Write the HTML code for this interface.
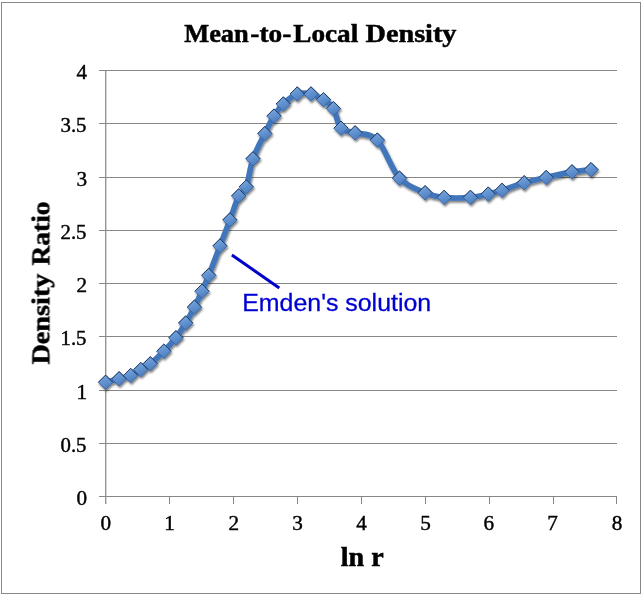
<!DOCTYPE html>
<html><head><meta charset="utf-8"><title>Mean-to-Local Density</title>
<style>
html,body{margin:0;padding:0;background:#fff;}
body{width:643px;height:597px;overflow:hidden;font-family:"Liberation Serif",serif;}
svg{display:block;}
.ax line{stroke:#878787;stroke-width:1;shape-rendering:crispEdges;}
.num text{font-family:"Liberation Serif",serif;font-size:20px;fill:#000;stroke:#000;stroke-width:0.42px;}
.ttl{font-family:"Liberation Serif",serif;font-weight:bold;fill:#000;stroke:#000;stroke-width:0.5px;}
.ann{font-family:"Liberation Sans",sans-serif;font-size:24.8px;fill:#0000d2;stroke:#0000d2;stroke-width:0.3px;}
</style></head><body>
<svg width="643" height="597" viewBox="0 0 643 597">
<defs>
<linearGradient id="mg" x1="0.2" y1="0" x2="0.6" y2="1">
<stop offset="0" stop-color="#7ba8df"/><stop offset="1" stop-color="#497cbf"/>
</linearGradient>
<filter id="sh" x="-5%" y="-5%" width="110%" height="115%">
<feGaussianBlur in="SourceAlpha" stdDeviation="1.1"/>
<feOffset dx="0.5" dy="1.8" result="b"/>
<feComponentTransfer><feFuncA type="linear" slope="0.5"/></feComponentTransfer>
<feMerge><feMergeNode/><feMergeNode in="SourceGraphic"/></feMerge>
</filter>
</defs>
<rect x="0" y="0" width="643" height="597" fill="#fff"/>
<rect x="1.5" y="2.5" width="639" height="591" fill="#fff" stroke="#888" stroke-width="1" shape-rendering="crispEdges"/>
<g class="ax">
<line x1="99" y1="70.5" x2="617.0" y2="70.5"/>
<line x1="99" y1="123.5" x2="617.0" y2="123.5"/>
<line x1="99" y1="177.5" x2="617.0" y2="177.5"/>
<line x1="99" y1="230.5" x2="617.0" y2="230.5"/>
<line x1="99" y1="283.5" x2="617.0" y2="283.5"/>
<line x1="99" y1="336.5" x2="617.0" y2="336.5"/>
<line x1="99" y1="390.5" x2="617.0" y2="390.5"/>
<line x1="99" y1="443.5" x2="617.0" y2="443.5"/>
<line x1="99" y1="496.5" x2="617.0" y2="496.5"/>
<line x1="169.5" y1="496.5" x2="169.5" y2="504"/>
<line x1="233.5" y1="496.5" x2="233.5" y2="504"/>
<line x1="297.5" y1="496.5" x2="297.5" y2="504"/>
<line x1="361.5" y1="496.5" x2="361.5" y2="504"/>
<line x1="425.5" y1="496.5" x2="425.5" y2="504"/>
<line x1="489.5" y1="496.5" x2="489.5" y2="504"/>
<line x1="553.5" y1="496.5" x2="553.5" y2="504"/>
<line x1="616.5" y1="496.5" x2="616.5" y2="504"/>
</g>
<line x1="105.75" y1="70" x2="105.75" y2="504" stroke="#878787" stroke-width="1.25"/>
<g opacity="0.999"><g class="num">
<text x="87.0" y="78.5" text-anchor="end" textLength="10.6" lengthAdjust="spacingAndGlyphs">4</text>
<text x="86.5" y="131.5" text-anchor="end" textLength="26.0" lengthAdjust="spacingAndGlyphs">3.5</text>
<text x="87.0" y="185.5" text-anchor="end" textLength="10.6" lengthAdjust="spacingAndGlyphs">3</text>
<text x="86.5" y="238.5" text-anchor="end" textLength="26.0" lengthAdjust="spacingAndGlyphs">2.5</text>
<text x="87.0" y="291.5" text-anchor="end" textLength="10.6" lengthAdjust="spacingAndGlyphs">2</text>
<text x="86.5" y="344.5" text-anchor="end" textLength="26.0" lengthAdjust="spacingAndGlyphs">1.5</text>
<text x="87.0" y="398.5" text-anchor="end" textLength="10.6" lengthAdjust="spacingAndGlyphs">1</text>
<text x="86.5" y="451.5" text-anchor="end" textLength="26.0" lengthAdjust="spacingAndGlyphs">0.5</text>
<text x="87.0" y="504.5" text-anchor="end" textLength="10.6" lengthAdjust="spacingAndGlyphs">0</text>
<text x="105.8" y="530" text-anchor="middle" textLength="10.6" lengthAdjust="spacingAndGlyphs">0</text>
<text x="169.5" y="530" text-anchor="middle" textLength="10.6" lengthAdjust="spacingAndGlyphs">1</text>
<text x="233.8" y="530" text-anchor="middle" textLength="10.6" lengthAdjust="spacingAndGlyphs">2</text>
<text x="297.5" y="530" text-anchor="middle" textLength="10.6" lengthAdjust="spacingAndGlyphs">3</text>
<text x="361.5" y="530" text-anchor="middle" textLength="10.6" lengthAdjust="spacingAndGlyphs">4</text>
<text x="425.5" y="530" text-anchor="middle" textLength="10.6" lengthAdjust="spacingAndGlyphs">5</text>
<text x="488.7" y="530" text-anchor="middle" textLength="10.6" lengthAdjust="spacingAndGlyphs">6</text>
<text x="552.5" y="530" text-anchor="middle" textLength="10.6" lengthAdjust="spacingAndGlyphs">7</text>
<text x="617.0" y="530" text-anchor="middle" textLength="10.6" lengthAdjust="spacingAndGlyphs">8</text>
</g>
<g class="ttl" font-size="25.5">
<text x="184.2" y="42.4" textLength="64.6" lengthAdjust="spacingAndGlyphs">Mean</text>
<text x="250.3" y="42.4" textLength="41" lengthAdjust="spacingAndGlyphs">-to-</text>
<text x="293.3" y="42.4" textLength="65" lengthAdjust="spacingAndGlyphs">Local</text>
<text x="365.5" y="42.4" textLength="91" lengthAdjust="spacingAndGlyphs">Density</text>
</g>
<text class="ttl" x="362.2" y="565.6" font-size="26.5" text-anchor="middle" textLength="43" lengthAdjust="spacingAndGlyphs">ln r</text>
<g class="ttl" font-size="25.5" transform="translate(49.4,0) rotate(-90)">
<text x="-364.6" y="0" textLength="91" lengthAdjust="spacingAndGlyphs">Density</text>
<text x="-265.5" y="0" textLength="64" lengthAdjust="spacingAndGlyphs">Ratio</text>
</g>
</g>
<g filter="url(#sh)">
<path d="M105.6,382.3 C107.8,381.7 114.9,379.9 119.1,378.8 C123.3,377.7 127.1,377.0 130.7,375.5 C134.3,374.0 137.5,371.6 140.8,369.6 C144.1,367.7 146.5,366.9 150.3,363.8 C154.2,360.7 159.6,355.5 163.9,351.2 C168.2,346.9 172.3,342.5 175.9,337.8 C179.5,333.1 182.6,328.1 185.7,323.0 C188.8,317.9 191.7,312.5 194.4,307.2 C197.1,301.9 199.6,296.5 202.0,291.2 C204.4,285.9 205.7,282.9 208.7,275.4 C211.7,267.9 216.5,255.2 220.0,246.0 C223.5,236.8 226.8,228.3 229.9,220.0 C233.0,211.7 236.0,201.4 238.7,195.9 C241.4,190.4 243.9,193.1 246.3,186.9 C248.7,180.7 249.9,167.7 253.0,158.8 C256.1,149.9 261.3,140.7 264.8,133.6 C268.3,126.5 270.9,121.0 274.0,116.1 C277.1,111.2 279.4,107.7 283.3,104.0 C287.2,100.3 292.6,95.7 297.2,94.0 C301.8,92.3 306.6,93.0 311.0,94.0 C315.4,95.0 319.8,97.3 323.5,99.7 C327.2,102.1 330.5,103.8 333.4,108.6 C336.3,113.3 337.4,124.1 341.0,128.2 C344.6,132.2 349.1,130.9 355.1,132.9 C361.2,134.9 369.9,132.6 377.3,140.1 C384.7,147.6 391.5,169.4 399.5,178.2 C407.5,187.0 417.7,189.6 425.1,192.8 C432.6,196.0 436.6,196.6 444.2,197.4 C451.8,198.2 463.1,198.0 470.4,197.4 C477.7,196.8 482.9,195.3 488.2,194.1 C493.5,192.9 496.0,192.2 502.0,190.3 C508.0,188.4 516.8,184.9 524.2,182.8 C531.6,180.7 538.2,179.3 546.2,177.5 C554.2,175.7 564.5,173.2 572.0,171.9 C579.5,170.6 587.8,170.1 591.0,169.7" fill="none" stroke="#4276ba" stroke-width="5.7" stroke-linejoin="round" stroke-linecap="round"/>
<g fill="url(#mg)" stroke="#3a64a0" stroke-width="0.9" stroke-linejoin="miter">
<path d="M105.6,375.1 l7.2,7.2 l-7.2,7.2 l-7.2,-7.2 z"/>
<path d="M119.1,371.6 l7.2,7.2 l-7.2,7.2 l-7.2,-7.2 z"/>
<path d="M130.7,368.3 l7.2,7.2 l-7.2,7.2 l-7.2,-7.2 z"/>
<path d="M140.8,362.4 l7.2,7.2 l-7.2,7.2 l-7.2,-7.2 z"/>
<path d="M150.3,356.6 l7.2,7.2 l-7.2,7.2 l-7.2,-7.2 z"/>
<path d="M163.9,344.0 l7.2,7.2 l-7.2,7.2 l-7.2,-7.2 z"/>
<path d="M175.9,330.6 l7.2,7.2 l-7.2,7.2 l-7.2,-7.2 z"/>
<path d="M185.7,315.8 l7.2,7.2 l-7.2,7.2 l-7.2,-7.2 z"/>
<path d="M194.4,300.0 l7.2,7.2 l-7.2,7.2 l-7.2,-7.2 z"/>
<path d="M202.0,284.0 l7.2,7.2 l-7.2,7.2 l-7.2,-7.2 z"/>
<path d="M208.7,268.2 l7.2,7.2 l-7.2,7.2 l-7.2,-7.2 z"/>
<path d="M220.0,238.8 l7.2,7.2 l-7.2,7.2 l-7.2,-7.2 z"/>
<path d="M229.9,212.8 l7.2,7.2 l-7.2,7.2 l-7.2,-7.2 z"/>
<path d="M238.7,188.7 l7.2,7.2 l-7.2,7.2 l-7.2,-7.2 z"/>
<path d="M246.3,179.7 l7.2,7.2 l-7.2,7.2 l-7.2,-7.2 z"/>
<path d="M253.0,151.6 l7.2,7.2 l-7.2,7.2 l-7.2,-7.2 z"/>
<path d="M264.8,126.4 l7.2,7.2 l-7.2,7.2 l-7.2,-7.2 z"/>
<path d="M274.0,108.9 l7.2,7.2 l-7.2,7.2 l-7.2,-7.2 z"/>
<path d="M283.3,96.8 l7.2,7.2 l-7.2,7.2 l-7.2,-7.2 z"/>
<path d="M297.2,86.8 l7.2,7.2 l-7.2,7.2 l-7.2,-7.2 z"/>
<path d="M311.0,86.8 l7.2,7.2 l-7.2,7.2 l-7.2,-7.2 z"/>
<path d="M323.5,92.5 l7.2,7.2 l-7.2,7.2 l-7.2,-7.2 z"/>
<path d="M333.4,101.4 l7.2,7.2 l-7.2,7.2 l-7.2,-7.2 z"/>
<path d="M341.0,121.0 l7.2,7.2 l-7.2,7.2 l-7.2,-7.2 z"/>
<path d="M355.1,125.7 l7.2,7.2 l-7.2,7.2 l-7.2,-7.2 z"/>
<path d="M377.3,132.9 l7.2,7.2 l-7.2,7.2 l-7.2,-7.2 z"/>
<path d="M399.5,171.0 l7.2,7.2 l-7.2,7.2 l-7.2,-7.2 z"/>
<path d="M425.1,185.6 l7.2,7.2 l-7.2,7.2 l-7.2,-7.2 z"/>
<path d="M444.2,190.2 l7.2,7.2 l-7.2,7.2 l-7.2,-7.2 z"/>
<path d="M470.4,190.2 l7.2,7.2 l-7.2,7.2 l-7.2,-7.2 z"/>
<path d="M488.2,186.9 l7.2,7.2 l-7.2,7.2 l-7.2,-7.2 z"/>
<path d="M502.0,183.1 l7.2,7.2 l-7.2,7.2 l-7.2,-7.2 z"/>
<path d="M524.2,175.6 l7.2,7.2 l-7.2,7.2 l-7.2,-7.2 z"/>
<path d="M546.2,170.3 l7.2,7.2 l-7.2,7.2 l-7.2,-7.2 z"/>
<path d="M572.0,164.7 l7.2,7.2 l-7.2,7.2 l-7.2,-7.2 z"/>
<path d="M591.0,162.5 l7.2,7.2 l-7.2,7.2 l-7.2,-7.2 z"/>
</g>
<g fill="none" stroke="#213a5f" stroke-width="1" stroke-opacity="0.9">
<path d="M98.4,382.3 l7.2,-7.2 l7.2,7.2"/>
<path d="M111.9,378.8 l7.2,-7.2 l7.2,7.2"/>
<path d="M123.5,375.5 l7.2,-7.2 l7.2,7.2"/>
<path d="M133.6,369.6 l7.2,-7.2 l7.2,7.2"/>
<path d="M143.1,363.8 l7.2,-7.2 l7.2,7.2"/>
<path d="M156.7,351.2 l7.2,-7.2 l7.2,7.2"/>
<path d="M168.7,337.8 l7.2,-7.2 l7.2,7.2"/>
<path d="M178.5,323.0 l7.2,-7.2 l7.2,7.2"/>
<path d="M187.2,307.2 l7.2,-7.2 l7.2,7.2"/>
<path d="M194.8,291.2 l7.2,-7.2 l7.2,7.2"/>
<path d="M201.5,275.4 l7.2,-7.2 l7.2,7.2"/>
<path d="M212.8,246.0 l7.2,-7.2 l7.2,7.2"/>
<path d="M222.7,220.0 l7.2,-7.2 l7.2,7.2"/>
<path d="M231.5,195.9 l7.2,-7.2 l7.2,7.2"/>
<path d="M239.1,186.9 l7.2,-7.2 l7.2,7.2"/>
<path d="M245.8,158.8 l7.2,-7.2 l7.2,7.2"/>
<path d="M257.6,133.6 l7.2,-7.2 l7.2,7.2"/>
<path d="M266.8,116.1 l7.2,-7.2 l7.2,7.2"/>
<path d="M276.1,104.0 l7.2,-7.2 l7.2,7.2"/>
<path d="M290.0,94.0 l7.2,-7.2 l7.2,7.2"/>
<path d="M303.8,94.0 l7.2,-7.2 l7.2,7.2"/>
<path d="M316.3,99.7 l7.2,-7.2 l7.2,7.2"/>
<path d="M326.2,108.6 l7.2,-7.2 l7.2,7.2"/>
<path d="M333.8,128.2 l7.2,-7.2 l7.2,7.2"/>
<path d="M347.9,132.9 l7.2,-7.2 l7.2,7.2"/>
<path d="M370.1,140.1 l7.2,-7.2 l7.2,7.2"/>
<path d="M392.3,178.2 l7.2,-7.2 l7.2,7.2"/>
<path d="M417.9,192.8 l7.2,-7.2 l7.2,7.2"/>
<path d="M437.0,197.4 l7.2,-7.2 l7.2,7.2"/>
<path d="M463.2,197.4 l7.2,-7.2 l7.2,7.2"/>
<path d="M481.0,194.1 l7.2,-7.2 l7.2,7.2"/>
<path d="M494.8,190.3 l7.2,-7.2 l7.2,7.2"/>
<path d="M517.0,182.8 l7.2,-7.2 l7.2,7.2"/>
<path d="M539.0,177.5 l7.2,-7.2 l7.2,7.2"/>
<path d="M564.8,171.9 l7.2,-7.2 l7.2,7.2"/>
<path d="M583.8,169.7 l7.2,-7.2 l7.2,7.2"/>
</g>
</g>
<g opacity="0.999"><line x1="231.9" y1="254.9" x2="279.3" y2="288.1" stroke="#0000cc" stroke-width="3"/>
<text class="ann" x="242.2" y="310.5" textLength="189" lengthAdjust="spacingAndGlyphs">Emden's solution</text></g>
</svg>
</body></html>
